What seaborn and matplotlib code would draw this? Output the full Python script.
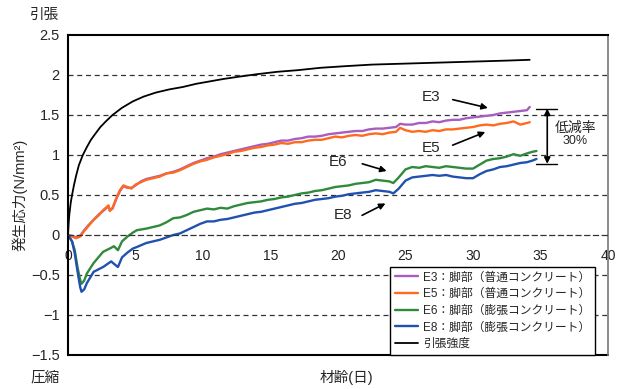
import numpy as np
import pandas as pd
import matplotlib
matplotlib.use('Agg')
import matplotlib.pyplot as plt
import seaborn as sns

# ---- data ----
days_a = [0, 0.3, 0.6, 0.9, 1.2, 1.5, 1.9, 2.3, 2.6, 3.0,
          3.1, 3.3, 3.6, 3.85, 4.1, 4.4, 4.7, 5.0, 5.4, 5.8,
          6.3, 6.8, 7.3, 7.8, 8.3, 8.8, 9.3, 9.8, 10.3, 10.8,
          11.3, 11.8, 12.3, 12.8, 13.3, 13.8, 14.3, 14.8, 15.3, 15.8,
          16.3, 16.8, 17.3, 17.8, 18.3, 18.8, 19.3, 19.8, 20.3, 20.8,
          21.3, 21.8, 22.3, 22.8, 23.3, 23.8, 24.3, 24.6, 25.0, 25.5,
          26.0, 26.5, 27.0, 27.5, 28.0, 28.5, 29.0, 29.5, 30.0, 30.5,
          31.0, 31.5, 32.0, 32.5, 33.0, 33.5, 34.0, 34.2]

e3 = [0, -0.01, -0.03, -0.01, 0.06, 0.12, 0.19, 0.26, 0.30, 0.36,
      0.31, 0.33, 0.46, 0.55, 0.61, 0.59, 0.59, 0.62, 0.67, 0.70,
      0.72, 0.74, 0.77, 0.79, 0.82, 0.86, 0.90, 0.93, 0.96, 0.98,
      1.01, 1.03, 1.05, 1.07, 1.09, 1.11, 1.13, 1.14, 1.16, 1.18,
      1.18, 1.20, 1.21, 1.23, 1.23, 1.24, 1.26, 1.27, 1.28, 1.29,
      1.30, 1.30, 1.32, 1.33, 1.33, 1.34, 1.35, 1.39, 1.38, 1.38,
      1.40, 1.40, 1.42, 1.41, 1.43, 1.44, 1.44, 1.46, 1.47, 1.48,
      1.49, 1.50, 1.52, 1.53, 1.54, 1.55, 1.56, 1.60]

e5 = [0, -0.02, -0.04, -0.02, 0.05, 0.11, 0.19, 0.25, 0.31, 0.37,
      0.30, 0.34, 0.47, 0.56, 0.62, 0.60, 0.58, 0.63, 0.66, 0.69,
      0.71, 0.73, 0.77, 0.78, 0.81, 0.85, 0.89, 0.92, 0.94, 0.97,
      0.99, 1.01, 1.04, 1.05, 1.07, 1.09, 1.10, 1.12, 1.13, 1.15,
      1.14, 1.16, 1.16, 1.18, 1.19, 1.19, 1.21, 1.23, 1.22, 1.24,
      1.25, 1.24, 1.26, 1.27, 1.26, 1.28, 1.29, 1.34, 1.31, 1.29,
      1.30, 1.29, 1.31, 1.30, 1.32, 1.32, 1.33, 1.34, 1.35, 1.37,
      1.38, 1.37, 1.39, 1.40, 1.42, 1.38, 1.40, 1.41]

days_b = [0, 0.3, 0.5, 0.7, 0.9, 1.0, 1.2, 1.4, 1.9, 2.6,
          3.2, 3.4, 3.7, 4.0, 4.4, 4.8, 5.1, 5.8, 6.3, 6.8,
          7.3, 7.8, 8.3, 8.8, 9.3, 9.8, 10.3, 10.8, 11.3, 11.8,
          12.3, 12.8, 13.3, 13.8, 14.3, 14.8, 15.3, 15.8, 16.3, 16.8,
          17.3, 17.8, 18.3, 18.8, 19.3, 19.8, 20.3, 20.8, 21.3, 21.8,
          22.3, 22.8, 23.3, 23.8, 24.1, 24.5, 25.0, 25.5, 26.0, 26.5,
          27.0, 27.5, 28.0, 28.5, 29.0, 29.5, 30.0, 30.5, 31.0, 31.5,
          32.0, 32.5, 33.0, 33.5, 34.0, 34.4, 34.7]

e6 = [0, -0.08, -0.19, -0.40, -0.56, -0.61, -0.57, -0.48, -0.35, -0.21,
      -0.16, -0.14, -0.19, -0.08, -0.02, 0.03, 0.06, 0.08, 0.10, 0.12,
      0.16, 0.21, 0.22, 0.25, 0.29, 0.31, 0.33, 0.32, 0.34, 0.33,
      0.36, 0.38, 0.40, 0.41, 0.42, 0.44, 0.45, 0.47, 0.48, 0.50,
      0.52, 0.53, 0.55, 0.56, 0.58, 0.60, 0.61, 0.62, 0.64, 0.65,
      0.66, 0.69, 0.68, 0.67, 0.65, 0.72, 0.82, 0.85, 0.84, 0.86,
      0.85, 0.84, 0.86, 0.85, 0.84, 0.83, 0.83, 0.88, 0.93, 0.95,
      0.96, 0.98, 1.01, 0.99, 1.02, 1.04, 1.05]

e8 = [0, -0.08, -0.23, -0.45, -0.65, -0.71, -0.68, -0.60, -0.46, -0.40,
      -0.33, -0.36, -0.40, -0.28, -0.22, -0.17, -0.15, -0.10, -0.08, -0.06,
      -0.03, 0.00, 0.02, 0.06, 0.10, 0.14, 0.17, 0.17, 0.19, 0.20,
      0.22, 0.24, 0.26, 0.28, 0.29, 0.31, 0.33, 0.35, 0.37, 0.39,
      0.40, 0.42, 0.44, 0.45, 0.46, 0.48, 0.49, 0.51, 0.52, 0.53,
      0.54, 0.56, 0.55, 0.54, 0.52, 0.58, 0.68, 0.72, 0.73, 0.74,
      0.75, 0.74, 0.75, 0.73, 0.72, 0.71, 0.71, 0.76, 0.80, 0.82,
      0.85, 0.86, 0.88, 0.90, 0.91, 0.93, 0.95]

days_t = [0, 0.05, 0.1, 0.2, 0.3, 0.45, 0.6, 0.8, 1.1, 1.4, 1.7, 2.0, 2.4,
          2.8, 3.3, 4.0, 4.8, 5.6, 6.5, 7.5, 8.5, 9.5, 10.5, 11.5, 12.7,
          14.0, 15.5, 17.0, 18.7, 20.5, 22.5, 24.5, 26.5, 28.5, 30.5,
          32.5, 34.2]
tensile = [0, 0.15, 0.26, 0.40, 0.50, 0.63, 0.74, 0.87, 1.00, 1.10, 1.19,
           1.26, 1.35, 1.42, 1.50, 1.59, 1.67, 1.73, 1.78, 1.82, 1.85, 1.89,
           1.92, 1.95, 1.98, 2.01, 2.04, 2.06, 2.09, 2.11, 2.13, 2.14, 2.15,
           2.16, 2.17, 2.18, 2.19]

labels = ['E3：脚部（普通コンクリート）', 'E5：脚部（普通コンクリート）',
          'E6：脚部（膨張コンクリート）', 'E8：脚部（膨張コンクリート）', '引張強度']
colors = ['#a75ec0', '#ff6a1f', '#2f8a3c', '#2151b0', '#000000']

y_ticks = [2.5, 2, 1.5, 1, 0.5, 0, -0.5, -1, -1.5]
x_ticks = [0, 5, 10, 15, 20, 25, 30, 35, 40]

# ---- style ----
sns.set_style('white')
plt.rcParams['font.family'] = ['Liberation Sans', 'Noto Sans CJK JP', 'DejaVu Sans']

fig = plt.figure(figsize=(6.21, 3.89), dpi=100)
ax = fig.add_axes([68/621, 34/389, 540/621, 320/389])

series = [(days_a, e3), (days_a, e5), (days_b, e6), (days_b, e8), (days_t, tensile)]
for (xs, ys), lab, col in zip(series, labels, colors):
    lw = 1.7 if col != '#000000' else 1.3
    sns.lineplot(x=xs, y=ys, color=col, lw=lw, label=lab, ax=ax,
                 sort=False, estimator=None)

ax.set_xlim(0, 40)
ax.set_ylim(-1.5, 2.5)
ax.set_yticks(y_ticks)
ax.set_yticklabels([f'{v:g}'.replace('-', '−') for v in y_ticks], fontsize=10.5)
ax.set_xticks(x_ticks)
ax.set_xticklabels([str(v) for v in x_ticks], fontsize=10.5)
ax.tick_params(axis='y', length=0, pad=6)
ax.tick_params(axis='x', direction='in', length=4, width=0.8, pad=10, colors='#222')

# dashed gridlines
for v in [2, 1.5, 1, 0.5, -0.5, -1]:
    ax.axhline(v, color='#333333', lw=0.9, ls=(0, (4, 3)), zorder=0)

# x axis crosses at zero, drawn dashed like the grid
ax.spines['bottom'].set_position(('data', 0))
ax.spines['bottom'].set_linestyle((0, (4, 3)))
ax.spines['bottom'].set_color('#333333')
ax.spines['bottom'].set_linewidth(0.9)
ax.plot([0, 1], [0, 0], transform=ax.transAxes, color='black', lw=1.5, clip_on=False)
ax.spines['top'].set_linewidth(1.5)
ax.spines['left'].set_linewidth(1.5)
ax.spines['right'].set_color('#777777')
ax.spines['right'].set_linewidth(1.2)
for s in ['top', 'left']:
    ax.spines[s].set_color('black')

ax.set_xlabel('')
ax.set_ylabel('発生応力(N/mm²)', fontsize=10.5, labelpad=2)
ax.text(0.515, -0.07, '材齢(日)', transform=ax.transAxes, ha='center', va='center', fontsize=10.5)
fig.text(45/621, 1 - 15/389, '引張', ha='center', va='center', fontsize=10.5)
fig.text(45/621, 1 - 378/389, '圧縮', ha='center', va='center', fontsize=10.5)

# annotations
arrow = dict(arrowstyle='-|>', color='black', lw=1.2, mutation_scale=9)
ax.annotate('', xy=(31.3, 1.58), xytext=(28.3, 1.70), arrowprops=arrow)
ax.text(26.9, 1.72, 'E3', ha='center', va='center', fontsize=11)
ax.annotate('', xy=(31.1, 1.30), xytext=(28.3, 1.11), arrowprops=arrow)
ax.text(26.9, 1.09, 'E5', ha='center', va='center', fontsize=11)
ax.annotate('', xy=(23.8, 0.79), xytext=(21.6, 0.90), arrowprops=arrow)
ax.text(20.0, 0.91, 'E6', ha='center', va='center', fontsize=11)
ax.annotate('', xy=(23.7, 0.41), xytext=(21.6, 0.23), arrowprops=arrow)
ax.text(20.4, 0.25, 'E8', ha='center', va='center', fontsize=11)

# reduction range bar
ax.annotate('', xy=(35.5, 1.58), xytext=(35.5, 0.89),
            arrowprops=dict(arrowstyle='<|-|>', color='black', lw=1.2, mutation_scale=9,
                            shrinkA=0, shrinkB=0))
ax.plot([34.7, 36.2], [1.58, 1.58], color='black', lw=1)
ax.plot([34.7, 36.2], [0.89, 0.89], color='black', lw=1)
ax.text(37.6, 1.34, '低減率', ha='center', va='center', fontsize=10)
ax.text(37.6, 1.18, '30%', ha='center', va='center', fontsize=9)

leg = ax.legend(loc='lower right', bbox_to_anchor=(527/540, 0), fontsize=8.5,
                frameon=True, fancybox=False, framealpha=1, edgecolor='black',
                handlelength=2.0, handletextpad=0.4, labelspacing=0.4,
                borderpad=0.4, borderaxespad=0)
leg.get_frame().set_linewidth(1.0)

fig.savefig('out.png', dpi=100)
